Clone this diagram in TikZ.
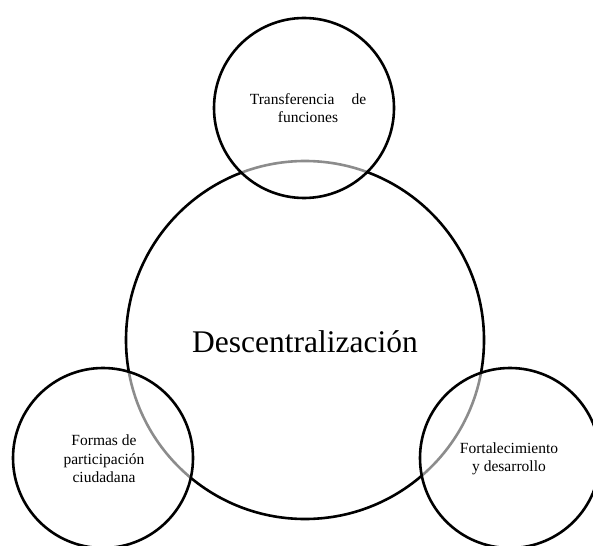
\documentclass[tikz,border=0pt]{standalone}
\usepackage{fontspec}
\setmainfont{Liberation Serif}
\begin{document}
\begin{tikzpicture}[x=1pt,y=-1pt,
  ring/.style={draw=black,line width=2.6pt},
  small/.style={font=\fontsize{15.5}{18.5}\selectfont,align=center,inner sep=0pt},
  veil/.style={fill=white,fill opacity=0.55}]
\useasboundingbox (0,0) rectangle (593,545);
\clip (0,0) rectangle (593,545);
% big circle
\draw[ring] (305,340) circle[radius=179];
\node (big) at (305,342) {\fontsize{31.5}{36}\selectfont Descentralización};
% veils to grey the big circle inside the small ones
\fill[veil] (304,108) circle[radius=90];
\fill[veil] (103,458) circle[radius=90];
\fill[veil] (510,458) circle[radius=90];
% small circles
\draw[ring] (304,108) circle[radius=90];
\draw[ring] (103,458) circle[radius=90];
\draw[ring] (510,458) circle[radius=90];
\node[small] (top) at (308,108) {Transferencia\hspace{1.1em}de\\funciones};
\node[small] (left) at (104,459) {Formas de\\participación\\ciudadana};
\node[small] (right) at (509,459) {Fortalecimiento\\y desarrollo};
\end{tikzpicture}
\end{document}
